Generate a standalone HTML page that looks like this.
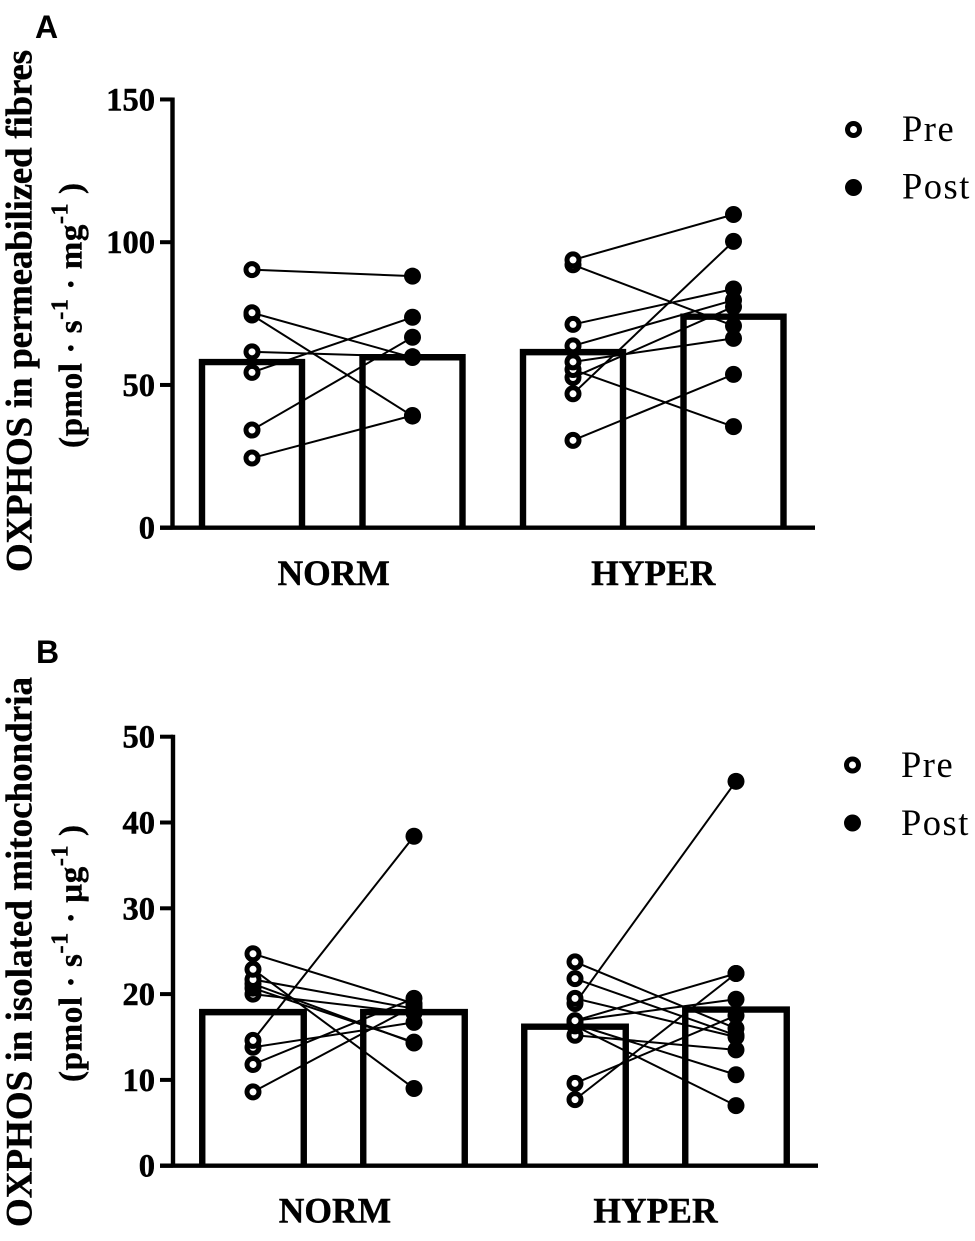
<!DOCTYPE html>
<html lang="en">
<head>
<meta charset="utf-8">
<title>OXPHOS chart</title>
<style>
html,body{margin:0;padding:0;background:#fff;}
svg{display:block;}
text{font-family:"Liberation Serif",serif;fill:#000;}
.panel{font-family:"Liberation Sans",sans-serif;font-weight:bold;font-size:32px;}
.title{font-weight:bold;stroke:#000;stroke-width:.4px;}
.legend{font-size:36.5px;letter-spacing:1.5px;}
</style>
</head>
<body>
<svg id="chart" xmlns="http://www.w3.org/2000/svg" width="975" height="1241" viewBox="0 0 975 1241">
  <text class="panel" x="35" y="38">A</text>
  <text class="panel" x="36" y="663">B</text>

  <text class="title" transform="translate(31.5,572) rotate(-90)" font-size="37" textLength="522" lengthAdjust="spacing">OXPHOS in permeabilized fibres</text>
  <text class="title" transform="translate(81.5,448) rotate(-90)" font-size="33" textLength="265" lengthAdjust="spacing">(pmol · s<tspan font-size="24" dy="-14">-1</tspan><tspan dy="14"> · mg</tspan><tspan font-size="24" dy="-14">-1</tspan><tspan dy="14"> )</tspan></text>
  <text class="title" transform="translate(31.5,1227) rotate(-90)" font-size="37" textLength="550" lengthAdjust="spacing">OXPHOS in isolated mitochondria</text>
  <text class="title" transform="translate(81.5,1082) rotate(-90)" font-size="33" textLength="257" lengthAdjust="spacing">(pmol · s<tspan font-size="24" dy="-14">-1</tspan><tspan dy="14"> · µg</tspan><tspan font-size="24" dy="-14">-1</tspan><tspan dy="14"> )</tspan></text>

  <g>
    <circle cx="853.5" cy="129.5" r="6" fill="#fff" stroke="#000" stroke-width="5"/>
    <text class="legend" x="902" y="141">Pre</text>
    <circle cx="853.5" cy="187.5" r="8.5" fill="#000"/>
    <text class="legend" x="902" y="198.5">Post</text>
  </g>
  <g>
    <circle cx="852.5" cy="765" r="6" fill="#fff" stroke="#000" stroke-width="5"/>
    <text class="legend" x="901" y="777">Pre</text>
    <circle cx="852.5" cy="823" r="8.5" fill="#000"/>
    <text class="legend" x="901" y="835">Post</text>
  </g>
</svg>
<script>
const categories = ['NORM', 'HYPER'];

const ticksA = [0, 50, 100, 150];
const barsA = [58, 59.7, 61.5, 73.9];
const normPreA = [90.4, 75.3, 74.5, 61.6, 54.4, 34.2, 24.4];
const normPostA = [88.1, 59.6, 39.1, 59.9, 73.7, 66.7, 39.3];
const hyperPreA = [93.8, 92.1, 71.2, 63.7, 58.1, 55.4, 52.6, 46.9, 30.6];
const hyperPostA = [109.7, 70.7, 83.6, 79.7, 66.3, 35.4, 77.4, 100.3, 53.7];

const ticksB = [0, 10, 20, 30, 40, 50];
const barsB = [17.9, 17.9, 16.2, 18.2];
const normPreB = [24.7, 22.9, 21.7, 21.2, 20.7, 20.0, 14.6, 13.8, 11.8, 8.6];
const normPostB = [18.9, 9.0, 18.3, 14.3, 14.4, 17.8, 38.4, 16.7, 19.5, 18.6];
const hyperPreB = [23.75, 21.8, 19.5, 18.9, 16.9, 16.9, 16.5, 16.3, 15.2, 9.6, 7.7];
const hyperPostB = [16.0, 15.2, 15.0, 44.8, 22.4, 19.4, 10.6, 7.0, 13.5, 17.5, 22.4];

const svg = document.getElementById('chart');
const NS = 'http://www.w3.org/2000/svg';

function make(tag, attrs, parent) {
  const el = document.createElementNS(NS, tag);
  for (const k in attrs) el.setAttribute(k, attrs[k]);
  parent.appendChild(el);
  return el;
}

function drawPanel(id, cfg) {
  const yOf = v => cfg.y0 - v * cfg.yScale;
  const xOf = i => cfg.x0 + i * cfg.xStep;

  const g = make('g', {}, svg);
  
  

  cfg.bars.forEach((v, i) => {
    const cx = xOf(i), hw = cfg.barWidth / 2;
    const bar = make('path', {
      d: 'M' + (cx - hw) + ' ' + cfg.y0 + 'V' + yOf(v) + 'H' + (cx + hw) + 'V' + cfg.y0,
      fill: 'none', stroke: '#000', 'stroke-width': 6.4
    }, g);
    
    
  });

  const axisTop = yOf(cfg.ticks[cfg.ticks.length - 1]);
  const yAxis = make('line', {x1: cfg.axisX, x2: cfg.axisX, y1: axisTop - 2, y2: cfg.y0, stroke: '#000', 'stroke-width': 4.4}, g);
  
  
  const xAxis = make('line', {x1: 160, x2: cfg.axisEnd, y1: cfg.y0, y2: cfg.y0, stroke: '#000', 'stroke-width': 4.4}, g);
  
  

  cfg.ticks.forEach(t => {
    const tick = make('line', {x1: 160, x2: cfg.axisX, y1: yOf(t), y2: yOf(t), stroke: '#000', 'stroke-width': 4}, g);
    
    
    const label = make('text', {x: 155, y: yOf(t) + 11, 'text-anchor': 'end', 'font-size': 32.5, 'font-weight': 'bold', stroke: '#000', 'stroke-width': 0.5}, g);
    label.textContent = t;
    
    
  });

  categories.forEach((c, i) => {
    const nudge = i === 0 ? 1.5 : 0;
    const label = make('text', {x: (xOf(i * 2) + xOf(i * 2 + 1)) / 2 + nudge, y: cfg.labelY, 'text-anchor': 'middle', 'font-size': 35.5, 'font-weight': 'bold', stroke: '#000', 'stroke-width': 0.4}, g);
    label.textContent = c;
    
    
  });

  cfg.groups.forEach((grp, gi) => {
    const xPre = xOf(gi * 2), xPost = xOf(gi * 2 + 1);
    grp.pre.forEach((v, i) => {
      const link = make('line', {x1: xPre, y1: yOf(v), x2: xPost, y2: yOf(grp.post[i]), stroke: '#000', 'stroke-width': 2}, g);
      
      
    });
    grp.post.forEach(v => {
      const dot = make('circle', {cx: xPost, cy: yOf(v), r: 8.5, fill: '#000'}, g);
      
      
    });
    grp.pre.slice().reverse().forEach(v => {
      const dot = make('circle', {cx: xPre, cy: yOf(v), r: 6, fill: '#fff', stroke: '#000', 'stroke-width': 5}, g);
      
      
    });
  });
}

drawPanel('panel-a', {
  y0: 527.7, yScale: 2.855, x0: 252, xStep: 160.5, barWidth: 100, axisX: 172.5, axisEnd: 815, labelY: 585,
  ticks: ticksA, bars: barsA,
  groups: [{pre: normPreA, post: normPostA}, {pre: hyperPreA, post: hyperPostA}]
});
drawPanel('panel-b', {
  y0: 1165.7, yScale: 8.58, x0: 253, xStep: 161, barWidth: 101.5, axisX: 173, axisEnd: 818, labelY: 1222.5,
  ticks: ticksB, bars: barsB,
  groups: [{pre: normPreB, post: normPostB}, {pre: hyperPreB, post: hyperPostB}]
});
</script>
</body>
</html>
